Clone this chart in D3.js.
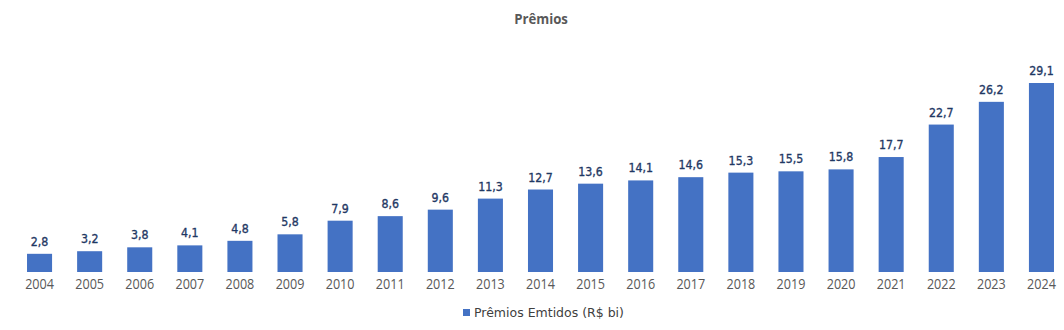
<!DOCTYPE html>
<html>
<head>
<meta charset="utf-8">
<script src="https://cdn.jsdelivr.net/npm/d3@7"></script>
<style>
  body { margin: 0; background: #fff; }
  svg { display: block; }
</style>
</head>
<body>
<svg id="chart" width="1064" height="330"></svg>
<script>
// Prêmios emitidos por ano (R$ bilhões)
const years = ["2004","2005","2006","2007","2008","2009","2010","2011","2012","2013","2014",
               "2015","2016","2017","2018","2019","2020","2021","2022","2023","2024"];
const premios = [2.8, 3.2, 3.8, 4.1, 4.8, 5.8, 7.9, 8.6, 9.6, 11.3, 12.7,
                 13.6, 14.1, 14.6, 15.3, 15.5, 15.8, 17.7, 22.7, 26.2, 29.1];
const seriesName = "Prêmios Emtidos (R$ bi)";
const title = "Prêmios";

const svg = d3.select("#chart");
const W = 1064, H = 330;
const baseY = 272;

const x = d3.scaleBand().domain(years).range([14.5, 1066.5])
  .paddingInner(0.5).paddingOuter(0.25);
const y = d3.scaleLinear().domain([0, 29.1]).range([baseY, 83]);

const fmt = v => d3.format(".1f")(v).replace(".", ",");

// title
svg.append("text")
  .attr("transform", "translate(541,24) scale(0.88,1)")
  .attr("text-anchor", "middle")
  .attr("font-family", "'Open Sans', sans-serif")
  .attr("font-size", 15).attr("font-weight", "bold")
  .attr("fill", "#595959")
  .text(title);

// bars
svg.append("g").selectAll("rect")
  .data(premios)
  .join("rect")
  .attr("x", (d, i) => x(years[i]))
  .attr("y", d => y(d))
  .attr("width", x.bandwidth())
  .attr("height", d => baseY - y(d))
  .attr("fill", "#4472C4");

// value labels
svg.append("g").selectAll("text")
  .data(premios)
  .join("text")
  .attr("transform", (d, i) => `translate(${x(years[i]) + x.bandwidth() / 2},${y(d) - 8}) scale(0.92,1)`)
  .attr("text-anchor", "middle")
  .attr("font-family", "'DejaVu Sans', sans-serif")
  .attr("font-size", 12)
  .attr("fill", "#1F3864")
  .attr("stroke", "#1F3864").attr("stroke-width", 0.35)
  .text(d => fmt(d));

// category axis labels
const xAxis = d3.axisBottom(x).tickSize(0).tickPadding(7);
const gx = svg.append("g").attr("transform", `translate(0,${baseY})`).call(xAxis);
gx.select(".domain").remove();
gx.selectAll("text")
  .attr("transform", "scale(0.9,1)")
  .attr("font-family", "'Open Sans', sans-serif")
  .attr("font-size", 14)
  .attr("fill", "#595959");

// legend
const lg = svg.append("g").attr("transform", "translate(463,309)");
lg.append("rect").attr("width", 7).attr("height", 7).attr("fill", "#4472C4");
lg.append("text")
  .attr("x", 11).attr("y", 8)
  .attr("font-family", "'DejaVu Sans', sans-serif")
  .attr("font-size", 12.5)
  .attr("fill", "#404040")
  .text(seriesName);
</script>
</body>
</html>
